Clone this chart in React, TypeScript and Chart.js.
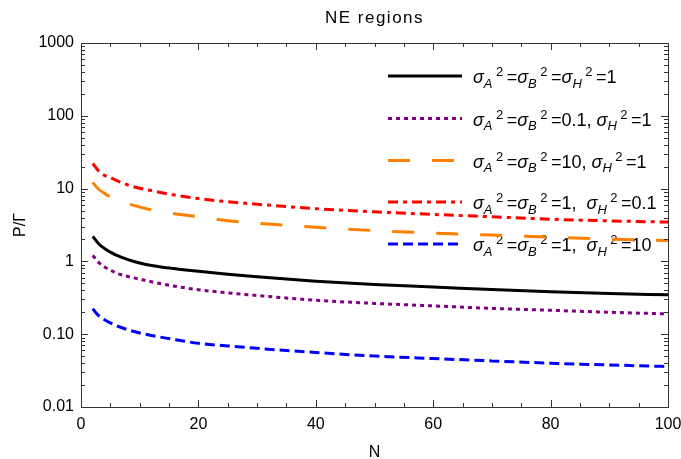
import React, { useEffect, useRef } from "react";
import { Chart, registerables } from "chart.js";

Chart.register(...registerables);

// ---------- data ----------
const nValues = [2, 3, 4, 5, 6, 8, 10, 12, 15, 20, 25, 30, 40, 50, 60, 70, 80, 90, 100];

// sigma_A^2 = sigma_B^2 = sigma_H^2 = 1 (black, solid)
const seriesAll1 = [2.21, 1.75, 1.5, 1.34, 1.22, 1.06, 0.95, 0.88, 0.81, 0.73, 0.665, 0.615, 0.535, 0.48, 0.445, 0.41, 0.382, 0.362, 0.348];
// sigma_A^2 = sigma_B^2 = 0.1, sigma_H^2 = 1 (purple, dotted)
const seriesAB01 = [1.21, 0.97, 0.84, 0.76, 0.69, 0.62, 0.57, 0.525, 0.47, 0.408, 0.37, 0.34, 0.293, 0.265, 0.245, 0.226, 0.213, 0.2, 0.19];
// sigma_A^2 = sigma_B^2 = 10, sigma_H^2 = 1 (orange, long dashes)
const seriesAB10 = [12.1, 9.8, 8.6, 7.7, 7.0, 6.2, 5.6, 5.1, 4.65, 4.1, 3.63, 3.35, 2.94, 2.65, 2.45, 2.3, 2.15, 2.02, 1.94];
// sigma_A^2 = sigma_B^2 = 1, sigma_H^2 = 0.1 (red, dot-dash)
const seriesH01 = [22.1, 17.5, 15.2, 14.2, 13.0, 11.2, 10.1, 9.4, 8.4, 7.3, 6.6, 6.1, 5.3, 4.8, 4.42, 4.1, 3.8, 3.6, 3.47];
// sigma_A^2 = sigma_B^2 = 1, sigma_H^2 = 10 (blue, dashed)
const seriesH10 = [0.223, 0.18, 0.158, 0.143, 0.131, 0.115, 0.104, 0.096, 0.087, 0.075, 0.069, 0.064, 0.056, 0.05, 0.0463, 0.043, 0.04, 0.0378, 0.036];

const yTickValues = [0.01, 0.1, 1, 10, 100, 1000];
const yTickLabels = ["0.01", "0.10", "1", "10", "100", "1000"];
const xTickValues = [0, 20, 40, 60, 80, 100];
const xTickLabels = ["0", "20", "40", "60", "80", "100"];

const titleText = "NE regions";
const xAxisTitle = "N";
const yAxisTitle = "P/Γ";

// legend labels as rich text parts: [text, kind] kind: n normal, i italic, b subscript, p superscript
type Part = [string, string];
const sig = (s: string): Part[] => [["σ", "i"], [s, "b"], ["2", "p"]];
const legendLabels: Part[][] = [
  [...sig("A"), ["=", "n"], ...sig("B"), ["=", "n"], ...sig("H"), ["=1", "n"]],
  [...sig("A"), ["=", "n"], ...sig("B"), ["=0.1, ", "n"], ...sig("H"), ["=1", "n"]],
  [...sig("A"), ["=", "n"], ...sig("B"), ["=10, ", "n"], ...sig("H"), ["=1", "n"]],
  [...sig("A"), ["=", "n"], ...sig("B"), ["=1,  ", "n"], ...sig("H"), ["=0.1", "n"]],
  [...sig("A"), ["=", "n"], ...sig("B"), ["=1,  ", "n"], ...sig("H"), ["=10", "n"]],
];
const plainLabels = [
  "σA²=σB²=σH²=1",
  "σA²=σB²=0.1, σH²=1",
  "σA²=σB²=10, σH²=1",
  "σA²=σB²=1, σH²=0.1",
  "σA²=σB²=1, σH²=10",
];

const seriesList = [seriesAll1, seriesAB01, seriesAB10, seriesH01, seriesH10];
const colors = ["#000000", "#800080", "#ff8000", "#ff0000", "#0000ff"];
const dashes: number[][] = [[], [4, 4], [22, 22], [10, 5, 4, 5], [10, 5]];

const FONT = "'Liberation Sans', Arial, sans-serif";

function drawRich(ctx: CanvasRenderingContext2D, x: number, y: number, parts: Part[]) {
  let cx = x;
  for (const [t, k] of parts) {
    let font = `18px ${FONT}`;
    let dy = 0;
    if (k === "i") font = `italic 18px ${FONT}`;
    if (k === "b") { font = `italic 13px ${FONT}`; dy = 4.5; }
    if (k === "p") { font = `13px ${FONT}`; dy = -7; cx += 3.5; }
    ctx.font = font;
    ctx.fillText(t, cx, y + dy);
    cx += ctx.measureText(t).width;
    if (k === "p") cx += 3.5;
  }
}

const decorPlugin = {
  id: "decor",
  beforeDatasetsDraw(chart: any) {
    const ctx: CanvasRenderingContext2D = chart.ctx;
    const rows = [76, 118.5, 160.5, 202, 244];
    ctx.save();
    legendLabels.forEach((parts, i) => {
      const y = rows[i];
      ctx.beginPath();
      ctx.strokeStyle = colors[i];
      ctx.lineWidth = 3;
      ctx.setLineDash(dashes[i]);
      ctx.lineCap = "butt";
      ctx.moveTo(388, y);
      ctx.lineTo(462, y);
      ctx.stroke();
      ctx.setLineDash([]);
      ctx.fillStyle = "#000";
      ctx.textAlign = "left";
      ctx.textBaseline = "alphabetic";
      drawRich(ctx, 473, y + 7, parts);
    });
    ctx.restore();
  },
  afterDraw(chart: any) {
    const ctx: CanvasRenderingContext2D = chart.ctx;
    const { left, right, top, bottom } = chart.chartArea;
    const xs = chart.scales.x;
    const ys = chart.scales.y;
    ctx.save();
    ctx.strokeStyle = "#333";
    ctx.lineWidth = 1;
    ctx.strokeRect(Math.round(left) + 0.5, Math.round(top) + 0.5, Math.round(right - left), Math.round(bottom - top));
    ctx.beginPath();
    // x ticks
    for (let v = 0; v <= 100; v += 5) {
      const px = Math.round(xs.getPixelForValue(v)) + 0.5;
      const len = v % 20 === 0 ? 7 : 4;
      ctx.moveTo(px, bottom);
      ctx.lineTo(px, bottom - len);
      ctx.moveTo(px, top);
      ctx.lineTo(px, top + len);
    }
    // y ticks
    for (let e = -2; e <= 3; e++) {
      for (let m = 1; m <= 9; m++) {
        if (e === 3 && m > 1) break;
        const v = m * Math.pow(10, e);
        const py = Math.round(ys.getPixelForValue(v)) + 0.5;
        const len = m === 1 ? 7 : 4;
        ctx.moveTo(left, py);
        ctx.lineTo(left + len, py);
        ctx.moveTo(right, py);
        ctx.lineTo(right - len, py);
      }
    }
    ctx.stroke();
    // titles
    ctx.fillStyle = "#000";
    ctx.textAlign = "center";
    ctx.textBaseline = "middle";
    ctx.font = `17px ${FONT}`;
    (ctx as any).letterSpacing = "1.5px";
    ctx.fillText(titleText, (left + right) / 2, 18);
    (ctx as any).letterSpacing = "0px";
    ctx.font = `16px ${FONT}`;
    ctx.fillText(xAxisTitle, (left + right) / 2, 453);
    ctx.translate(21, (top + bottom) / 2);
    ctx.rotate(-Math.PI / 2);
    ctx.fillText(yAxisTitle, 0, 0);
    ctx.restore();
  },
};

export default function App() {
  const ref = useRef<HTMLCanvasElement | null>(null);
  useEffect(() => {
    if (!ref.current) return;
    const chart = new Chart(ref.current, {
      type: "line",
      data: {
        datasets: seriesList.map((s, i) => ({
          label: plainLabels[i],
          data: nValues.map((n, j) => ({ x: n, y: s[j] })),
          borderColor: colors[i],
          borderWidth: 3,
          borderDash: dashes[i],
          borderCapStyle: "butt" as const,
          pointRadius: 0,
          fill: false,
          cubicInterpolationMode: "monotone" as const,
        })),
      },
      options: {
        responsive: false,
        animation: false,
        layout: { padding: { top: 43, right: 13, bottom: 0, left: 0 } },
        plugins: { legend: { display: false }, title: { display: false }, tooltip: { enabled: false } },
        scales: {
          x: {
            type: "linear",
            min: 0,
            max: 100,
            grid: { display: false, drawTicks: false },
            border: { display: false },
            afterBuildTicks: (scale: any) => { scale.ticks = xTickValues.map((v) => ({ value: v })); },
            afterFit: (scale: any) => { scale.height = 52; scale.paddingLeft = 0; scale.paddingRight = 0; },
            ticks: {
              autoSkip: false,
              padding: 8,
              color: "#000",
              font: { family: FONT, size: 16 },
              callback: (v: any) => xTickLabels[xTickValues.indexOf(Number(v))] ?? "",
            },
          },
          y: {
            type: "logarithmic",
            min: 0.01,
            max: 1000,
            grid: { display: false, drawTicks: false },
            border: { display: false },
            afterBuildTicks: (scale: any) => { scale.ticks = yTickValues.map((v) => ({ value: v })); },
            afterFit: (scale: any) => { scale.width = 81; scale.paddingTop = 0; scale.paddingBottom = 0; },
            ticks: {
              autoSkip: false,
              padding: 7,
              color: "#000",
              font: { family: FONT, size: 16 },
              callback: (v: any) => {
                const idx = yTickValues.findIndex((t) => Math.abs(t - Number(v)) < t * 1e-6);
                return idx >= 0 ? yTickLabels[idx] : "";
              },
            },
          },
        },
      },
      plugins: [decorPlugin],
    } as any);
    return () => chart.destroy();
  }, []);
  return (
    <div style={{ position: "fixed", left: 0, top: 0, width: 681, height: 459, background: "#fff" }}>
      <canvas ref={ref} width={681} height={459} style={{ display: "block" }} />
    </div>
  );
}
